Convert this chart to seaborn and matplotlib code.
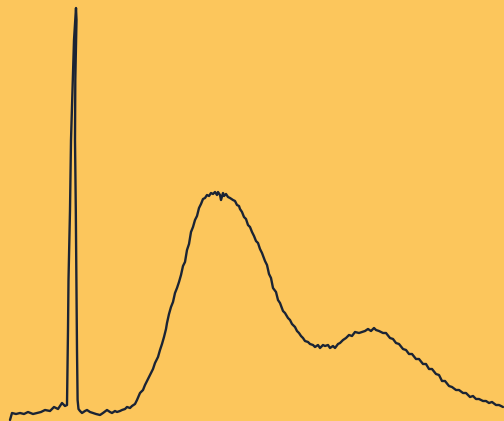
import numpy as np
import pandas as pd
import matplotlib
matplotlib.use('Agg')
import matplotlib.pyplot as plt
import seaborn as sns

# Trace: position along the scan and signal height
position = [
    10, 12, 16, 20, 24, 28, 33, 37, 41, 45, 50, 54, 58, 62, 65, 67,
    68, 68.5, 70, 71, 72.5, 74, 76, 76.5, 75.3, 75, 75.8, 76.4, 77, 77.6,
    78.5, 80, 82, 85, 87, 90, 93, 96, 100, 103, 107, 110, 112, 115, 117, 120, 122,
    125, 127, 130, 132, 135, 137, 140, 143, 145, 148, 150, 153, 155, 158,
    160, 162, 164, 166, 167, 169, 171, 173, 175, 177, 179, 181, 183, 185,
    187, 189, 191, 193, 195, 197, 199, 201, 203, 205, 207, 209, 211, 213,
    215, 217, 218, 220, 221, 223, 224, 226, 228, 230, 233, 235, 237, 239,
    240, 242, 244, 246, 248, 250, 252, 254, 256, 258, 260, 262, 265, 267,
    269, 271, 273, 276, 278, 280, 283, 285, 288, 290, 292, 295, 297, 299,
    301, 303, 305, 308, 310, 313, 315, 318, 320, 323, 325, 328, 330, 333,
    335, 338, 340, 343, 346, 349, 352, 355, 359, 362, 365, 368, 371, 374,
    376, 379, 383, 386, 390, 393, 396, 399, 403, 406, 409, 412, 416, 419,
    423, 426, 429, 432, 436, 439, 442, 445, 449, 452, 456, 459, 463, 466,
    470, 473, 476, 479, 483, 486, 489, 492, 496, 499, 503,
]
height = [
    1, 8, 7, 8, 7, 9, 7, 8, 9, 11, 10, 14, 12, 18, 15, 16,
    91, 141, 211, 281, 331, 381, 413, 401, 341, 281, 211, 141, 71, 21,
    12, 10, 8, 10, 11, 9, 8, 7, 6, 8, 11, 9, 8, 10, 9, 10, 11,
    12, 14, 13, 15, 17, 21, 28, 31, 36, 42, 46, 52, 58, 64,
    71, 77, 84, 92, 98, 107, 114, 119, 128, 133, 139, 146, 155, 159,
    171, 177, 189, 194, 201, 205, 213, 217, 222, 223, 226, 225, 228, 227,
    229, 226, 229, 226, 221, 228, 225, 227, 224, 223, 221, 220, 216, 215,
    212, 209, 204, 202, 196, 194, 189, 185, 180, 178, 172, 168, 160, 156,
    147, 143, 133, 129, 121, 118, 110, 108, 103, 101, 97, 94, 90, 88,
    85, 83, 80, 79, 77, 76, 74, 76, 73, 76, 75, 76, 73, 75,
    73, 77, 78, 81, 83, 86, 85, 89, 88, 89, 90, 92, 90, 93,
    91, 90, 88, 88, 83, 82, 78, 77, 72, 71, 67, 67, 62, 62,
    57, 57, 52, 52, 47, 46, 40, 40, 35, 34, 31, 31, 28, 28,
    24, 25, 22, 22, 20, 20, 18, 19, 16, 16, 14,
]

BG = '#fcc65c'
LINE = '#1b2434'

sns.set_theme(style='white')
df = pd.DataFrame({'position': position, 'height': height})

fig = plt.figure(figsize=(5.04, 4.21), dpi=100)
fig.patch.set_facecolor(BG)
ax = fig.add_axes([0, 0, 1, 1])
ax.set_facecolor(BG)

sns.lineplot(data=df, x='position', y='height', ax=ax, color=LINE,
             linewidth=1.7, sort=False, estimator=None)

ax.set_xlim(0, 504)
ax.set_ylim(0, 421)
ax.set_axis_off()

plt.savefig('out.png', dpi=100, facecolor=BG)
plt.close()
